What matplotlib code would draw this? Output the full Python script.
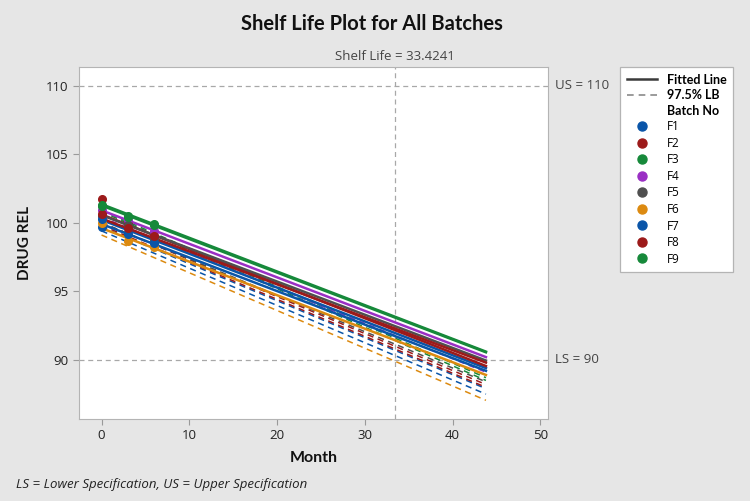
import numpy as np
import matplotlib
matplotlib.use('Agg')
import matplotlib.pyplot as plt
from matplotlib.lines import Line2D

plt.rcParams['font.family'] = ['Open Sans', 'DejaVu Sans']
BOLD = ['Lato', 'DejaVu Sans']

# data
batches = ['F1', 'F2', 'F3', 'F4', 'F5', 'F6', 'F7', 'F8', 'F9']
months = [0, 3, 6]
drug_rel = {
    'F1': [99.7, 99.6, 98.6],
    'F2': [101.7, 99.9, 99.0],
    'F3': [101.3, 100.5, 99.9],
    'F4': [100.9, 100.2, 99.4],
    'F5': [100.5, 99.8, 98.8],
    'F6': [100.0, 98.7, 98.2],
    'F7': [100.3, 99.2, 98.5],
    'F8': [100.6, 99.6, 99.0],
    'F9': [101.2, 100.4, 99.8],
}
# fitted line and 97.5% lower bound, value at month 0 and at the end month
fit_start = [100.2, 100.6, 101.35, 100.9, 100.55, 99.6, 99.9, 100.3, 101.25]
fit_end = [89.4, 89.55, 90.6, 90.2, 89.95, 88.9, 89.2, 89.8, 90.55]
lb_start = [99.7, 100.0, 100.9, 100.4, 100.0, 99.1, 99.4, 99.8, 100.8]
lb_end = [87.9, 88.2, 88.7, 89.1, 88.4, 87.05, 87.5, 88.0, 88.5]
end_month = 43.8
shelf_life = 33.4241
lower_spec = 90
upper_spec = 110

colors = ['#0a55a8', '#9c1a1a', '#16893a', '#9a2fc4', '#4f4f4f',
          '#dc8a10', '#0a55a8', '#9c1a1a', '#16893a']

fig = plt.figure(figsize=(7.5, 5.01), dpi=100, facecolor='#e6e6e6')
ax = fig.add_axes([0.105, 0.164, 0.626, 0.702])
ax.set_facecolor('white')

xx = [0, end_month]
for i, b in enumerate(batches):
    ax.plot(xx, [lb_start[i], lb_end[i]], color=colors[i], lw=1.1,
            dashes=(4, 3), zorder=2)
for i, b in enumerate(batches):
    ax.plot(xx, [fit_start[i], fit_end[i]], color=colors[i], lw=1.8, zorder=3)
for i, b in enumerate(batches):
    ax.plot(months, drug_rel[b], 'o', color=colors[i], ms=5.5, zorder=4)

ref = dict(color='#a8a8a8', lw=0.9, dashes=(4, 3), zorder=1)
ax.axhline(upper_spec, **ref)
ax.axhline(lower_spec, **ref)
ax.axvline(shelf_life, **ref)

ax.set_xlim(-2.6, 50.9)
ax.set_ylim(85.7, 111.34)
ax.set_xticks([0, 10, 20, 30, 40, 50])
ax.set_yticks([90, 95, 100, 105, 110])
for s in ax.spines.values():
    s.set_color('#b4b4b4')
ax.tick_params(colors='#9a9a9a', labelcolor='#222222', labelsize=9.5,
               length=4, width=0.8)

ax.set_xlabel('Month', fontsize=11.5, fontweight='bold', family=BOLD,
              color='#111111', labelpad=6)
ax.set_ylabel('DRUG REL', fontsize=11, fontweight='bold', family=BOLD,
              color='#111111', labelpad=10)

tr_x = ax.get_xaxis_transform()
tr_y = ax.get_yaxis_transform()
ax.text(shelf_life, 1.012, 'Shelf Life = 33.4241', transform=tr_x,
        ha='center', va='bottom', fontsize=9.5, color='#444444')
ax.text(1.015, upper_spec, 'US = 110', transform=tr_y, ha='left',
        va='center', fontsize=9.5, color='#444444')
ax.text(1.015, lower_spec, 'LS = 90', transform=tr_y, ha='left',
        va='center', fontsize=9.5, color='#444444')

fig.text(0.496, 0.952, 'Shelf Life Plot for All Batches', ha='center',
         va='center', fontsize=14.5, fontweight='bold', family=BOLD,
         color='#111111')
fig.text(0.021, 0.032, 'LS = Lower Specification, US = Upper Specification',
         ha='left', va='center', fontsize=9.5, style='italic', color='#222222')

handles = [Line2D([], [], color='#3a3a3a', lw=1.8),
           Line2D([], [], color='#8a8a8a', lw=1.2, dashes=(4, 3)),
           Line2D([], [], color='none')]
labels = ['Fitted Line', '97.5% LB', 'Batch No']
for i, b in enumerate(batches):
    handles.append(Line2D([], [], marker='o', ls='none', color=colors[i], ms=6.5))
    labels.append(b)
leg = fig.legend(handles, labels, loc='upper left',
                 bbox_to_anchor=(0.827, 0.866), frameon=True, fancybox=False,
                 fontsize=8.5, labelspacing=0.3, handlelength=2.6,
                 handletextpad=0.8, borderpad=0.55, borderaxespad=0,
                 framealpha=1)
leg.get_frame().set_edgecolor('#b4b4b4')
leg.get_frame().set_linewidth(0.9)
for t in leg.get_texts()[:3]:
    t.set_fontweight('bold')
    t.set_family(BOLD)
    t.set_fontsize(9)

fig.savefig('out.png', dpi=100, facecolor=fig.get_facecolor())
